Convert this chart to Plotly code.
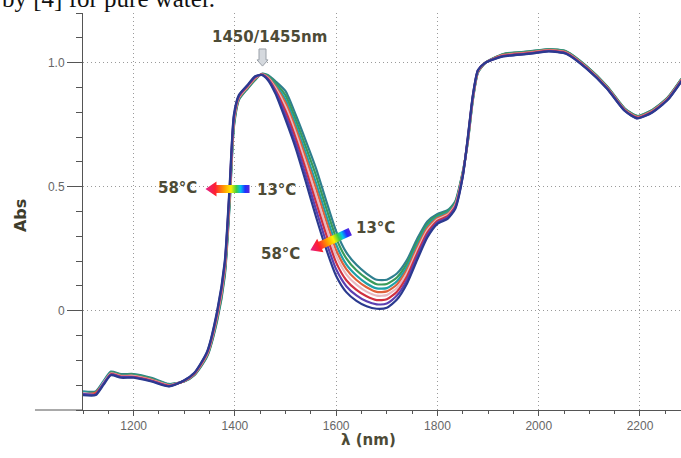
import base64
import plotly.graph_objects as go

# ---------------- data ----------------
wavelength_nm = [1100, 1125, 1140, 1155, 1175, 1200, 1235, 1270, 1300, 1320, 1345,
                 1365, 1380, 1390, 1398, 1408, 1425, 1440, 1453,
                 1465, 1480, 1500, 1520, 1540, 1560, 1580, 1600, 1620, 1640, 1660,
                 1680, 1700, 1720, 1740, 1760, 1780, 1800, 1820, 1835, 1850,
                 1860, 1870, 1880, 1895, 1930, 1980, 2020, 2055, 2095, 2135, 2170,
                 2195, 2225, 2255, 2282]

abs_13C = [-0.325, -0.325, -0.285, -0.245, -0.255, -0.255, -0.27, -0.295, -0.285, -0.26, -0.185,
           -0.04, 0.14, 0.44, 0.74, 0.85, 0.895, 0.93, 0.955,
           0.95, 0.925, 0.885, 0.79, 0.685, 0.575, 0.445, 0.32, 0.235, 0.185, 0.15,
           0.125, 0.125, 0.15, 0.205, 0.29, 0.36, 0.39, 0.405, 0.44, 0.56,
           0.68, 0.85, 0.96, 1.0, 1.035, 1.045, 1.055, 1.045, 0.985, 0.905, 0.815,
           0.785, 0.81, 0.86, 0.935]
abs_19C = [-0.33, -0.328, -0.29, -0.248, -0.258, -0.257, -0.273, -0.297, -0.284, -0.258, -0.182,
           -0.034, 0.149, 0.452, 0.748, 0.853, 0.897, 0.932, 0.954,
           0.947, 0.918, 0.868, 0.770, 0.660, 0.546, 0.416, 0.293, 0.211, 0.163, 0.130,
           0.107, 0.108, 0.134, 0.191, 0.277, 0.350, 0.384, 0.400, 0.436, 0.557,
           0.683, 0.853, 0.961, 1.0, 1.034, 1.044, 1.054, 1.044, 0.984, 0.904, 0.814,
           0.784, 0.809, 0.859, 0.934]
abs_26C = [-0.328, -0.332, -0.288, -0.25, -0.26, -0.26, -0.275, -0.298, -0.284, -0.257, -0.179,
           -0.028, 0.158, 0.464, 0.755, 0.856, 0.90, 0.935, 0.954,
           0.944, 0.910, 0.851, 0.750, 0.636, 0.517, 0.387, 0.266, 0.187, 0.142, 0.110,
           0.090, 0.091, 0.119, 0.177, 0.265, 0.341, 0.378, 0.395, 0.431, 0.554,
           0.686, 0.856, 0.963, 1.0, 1.032, 1.042, 1.052, 1.042, 0.982, 0.902, 0.812,
           0.782, 0.807, 0.857, 0.932]
abs_32C = [-0.335, -0.33, -0.294, -0.252, -0.262, -0.262, -0.277, -0.30, -0.283, -0.256, -0.177,
           -0.023, 0.165, 0.474, 0.761, 0.858, 0.901, 0.936, 0.953,
           0.942, 0.904, 0.837, 0.733, 0.616, 0.493, 0.363, 0.244, 0.168, 0.124, 0.095,
           0.076, 0.078, 0.106, 0.165, 0.254, 0.333, 0.373, 0.390, 0.427, 0.552,
           0.689, 0.859, 0.964, 1.0, 1.031, 1.041, 1.051, 1.041, 0.981, 0.901, 0.811,
           0.781, 0.806, 0.856, 0.931]
abs_39C = [-0.332, -0.336, -0.292, -0.254, -0.263, -0.263, -0.279, -0.301, -0.282, -0.254, -0.174,
           -0.018, 0.173, 0.484, 0.768, 0.861, 0.903, 0.938, 0.952,
           0.939, 0.898, 0.822, 0.716, 0.594, 0.468, 0.338, 0.221, 0.147, 0.105, 0.077,
           0.061, 0.063, 0.092, 0.153, 0.243, 0.324, 0.368, 0.386, 0.424, 0.549,
           0.691, 0.861, 0.966, 1.0, 1.029, 1.039, 1.049, 1.039, 0.979, 0.899, 0.809,
           0.779, 0.804, 0.854, 0.929]
abs_45C = [-0.338, -0.334, -0.297, -0.256, -0.265, -0.266, -0.281, -0.302, -0.282, -0.253, -0.171,
           -0.012, 0.182, 0.496, 0.775, 0.864, 0.906, 0.941, 0.952,
           0.936, 0.890, 0.805, 0.696, 0.570, 0.439, 0.309, 0.194, 0.123, 0.084, 0.058,
           0.043, 0.046, 0.077, 0.139, 0.231, 0.315, 0.362, 0.381, 0.419, 0.546,
           0.694, 0.864, 0.967, 1.0, 1.028, 1.038, 1.048, 1.038, 0.978, 0.898, 0.808,
           0.778, 0.803, 0.853, 0.928]
abs_52C = [-0.335, -0.338, -0.295, -0.258, -0.267, -0.268, -0.283, -0.304, -0.281, -0.251, -0.168,
           -0.006, 0.191, 0.508, 0.783, 0.867, 0.908, 0.943, 0.951,
           0.933, 0.883, 0.787, 0.675, 0.545, 0.409, 0.279, 0.167, 0.099, 0.062, 0.038,
           0.026, 0.029, 0.061, 0.124, 0.218, 0.305, 0.356, 0.375, 0.415, 0.543,
           0.697, 0.867, 0.969, 1.0, 1.026, 1.036, 1.046, 1.036, 0.976, 0.896, 0.806,
           0.776, 0.801, 0.851, 0.926]
abs_58C = [-0.34, -0.34, -0.30, -0.26, -0.27, -0.27, -0.285, -0.305, -0.28, -0.25, -0.165,
           0.0, 0.20, 0.52, 0.79, 0.87, 0.91, 0.945, 0.95,
           0.93, 0.875, 0.77, 0.655, 0.52, 0.38, 0.25, 0.14, 0.075, 0.04, 0.018,
           0.008, 0.012, 0.045, 0.11, 0.205, 0.295, 0.35, 0.37, 0.41, 0.54,
           0.70, 0.87, 0.97, 1.0, 1.025, 1.035, 1.045, 1.035, 0.975, 0.895, 0.805,
           0.775, 0.80, 0.85, 0.925]

series_labels = ["13°C", "19°C", "26°C", "32°C", "39°C", "45°C", "52°C", "58°C"]
series_values = [abs_13C, abs_19C, abs_26C, abs_32C, abs_39C, abs_45C, abs_52C, abs_58C]

x_tick_values = [1200, 1400, 1600, 1800, 2000, 2200]
y_tick_values = [0, 0.5, 1.0]
y_tick_labels = ["0", "0.5", "1.0"]

# ---------------- styles ----------------
line_colors = ["#2f7f8f", "#3a9a5a", "#1fa0a8", "#e0603a",
               "#e8b8c0", "#d03040", "#5b3fb0", "#2b3a8f"]
TEXT_COLOR = "#4d4b36"
AXIS_COLOR = "#555555"
GRID_COLOR = "#9a9a9a"

fig = go.Figure()
for lab, vals, col in zip(series_labels, series_values, line_colors):
    fig.add_trace(go.Scatter(x=wavelength_nm, y=vals, mode="lines", name=lab,
                             line=dict(color=col, width=2.2, shape="spline", smoothing=0.6),
                             hoverinfo="skip"))


def rainbow_arrow_uri(w, h, angle):
    svg = f'''<svg xmlns="http://www.w3.org/2000/svg" width="{w}" height="{h}" viewBox="0 0 {w} {h}">
<defs><linearGradient id="g" gradientUnits="userSpaceOnUse" x1="-22" y1="0" x2="22" y2="0">
<stop offset="0" stop-color="#e0208c"/>
<stop offset="0.22" stop-color="#ff2030"/>
<stop offset="0.42" stop-color="#ff9a00"/>
<stop offset="0.58" stop-color="#ffee00"/>
<stop offset="0.70" stop-color="#40d040"/>
<stop offset="0.80" stop-color="#00c0f0"/>
<stop offset="0.90" stop-color="#2030ff"/>
<stop offset="1" stop-color="#5a28d8"/>
</linearGradient></defs>
<g transform="translate({w/2},{h/2}) rotate({angle})">
<polygon points="-22,0 -11,-7.5 -11,-4 22,-4 22,4 -11,4 -11,7.5" fill="url(#g)"/>
</g></svg>'''
    return "data:image/svg+xml;base64," + base64.b64encode(svg.encode()).decode()


fig.add_layout_image(dict(source=rainbow_arrow_uri(50, 20, 0), xref="x", yref="y",
                          x=1336, y=0.531, sizex=98.8, sizey=0.0806,
                          xanchor="left", yanchor="top", sizing="stretch", layer="above"))
fig.add_layout_image(dict(source=rainbow_arrow_uri(50, 40, -25), xref="x", yref="y",
                          x=1539, y=0.3624, sizex=98.8, sizey=0.1612,
                          xanchor="left", yanchor="top", sizing="stretch", layer="above"))

# gray downward arrow at the peak
fig.add_shape(type="path", xref="x", yref="y",
              path="M 1447.6,1.055 L 1461.4,1.055 L 1461.4,1.011 L 1465.4,1.011 "
                   "L 1454.5,0.986 L 1443.6,1.011 L 1447.6,1.011 Z",
              fillcolor="#d5d9de", line=dict(color="#9aa0a8", width=1), layer="above")

# x-axis line extension to the left of the y axis
fig.add_shape(type="line", xref="paper", yref="paper", x0=-0.0803, x1=0, y0=0, y1=0,
              line=dict(color=AXIS_COLOR, width=1))

label_font = dict(family="DejaVu Sans", size=15, color=TEXT_COLOR)
for txt, xx, yy in [("1450/1455nm", 1469, 1.105), ("58°C", 1285.7, 0.495),
                    ("13°C", 1483, 0.487), ("13°C", 1676.7, 0.333), ("58°C", 1491, 0.229)]:
    fig.add_annotation(text=f"<b>{txt}</b>", x=xx, y=yy, xref="x", yref="y",
                       xanchor="center", yanchor="middle",
                       showarrow=False, font=label_font)

# axis titles
fig.add_annotation(text="<b>λ (nm)</b>", x=0.4766, y=-0.0756, xref="paper", yref="paper",
                   xanchor="center", yanchor="middle", showarrow=False,
                   font=dict(family="DejaVu Sans", size=15, color=TEXT_COLOR))
fig.add_annotation(text="<b>Abs</b>", x=-0.1054, y=0.491, xref="paper", yref="paper",
                   xanchor="center", yanchor="middle", showarrow=False, textangle=-90,
                   font=dict(family="DejaVu Sans", size=16, color="#3e3d2c"))

# cropped line of body text at the very top
fig.add_annotation(text="by [4] for pure water.", x=-0.1388, y=1.0365, xref="paper", yref="paper",
                   xanchor="left", yanchor="middle", showarrow=False,
                   font=dict(family="Liberation Serif", size=25, color="#111111"))

fig.update_layout(
    width=681, height=458,
    margin=dict(l=83, r=0, t=13, b=48),
    paper_bgcolor="white", plot_bgcolor="white",
    showlegend=False,
    xaxis=dict(range=[1100, 2281], tickmode="array", tickvals=x_tick_values,
               showline=True, linecolor=AXIS_COLOR, linewidth=1,
               ticks="outside", ticklen=5, tickcolor=AXIS_COLOR,
               showgrid=True, gridcolor=GRID_COLOR, griddash="1px,3px", gridwidth=1,
               zeroline=False,
               minor=dict(tickmode="linear", tick0=1100, dtick=50, ticks="outside",
                          ticklen=3, tickcolor=AXIS_COLOR, showgrid=False),
               tickfont=dict(family="Liberation Sans", size=12, color="#666666")),
    yaxis=dict(range=[-0.4, 1.2], tickmode="array", tickvals=y_tick_values,
               ticktext=y_tick_labels,
               showline=True, linecolor=AXIS_COLOR, linewidth=1,
               ticks="outside", ticklen=15, tickcolor=AXIS_COLOR,
               showgrid=True, gridcolor=GRID_COLOR, griddash="1px,3px", gridwidth=1,
               zeroline=False,
               minor=dict(tickmode="linear", tick0=0, dtick=0.1, ticks="outside",
                          ticklen=6, tickcolor=AXIS_COLOR, showgrid=False),
               tickfont=dict(family="Liberation Sans", size=12, color="#666666")),
)

fig.write_html("out.html",
               config={"displayModeBar": False, "staticPlot": True},
               post_script="document.body.style.margin='0px';document.body.style.overflow='hidden';")
